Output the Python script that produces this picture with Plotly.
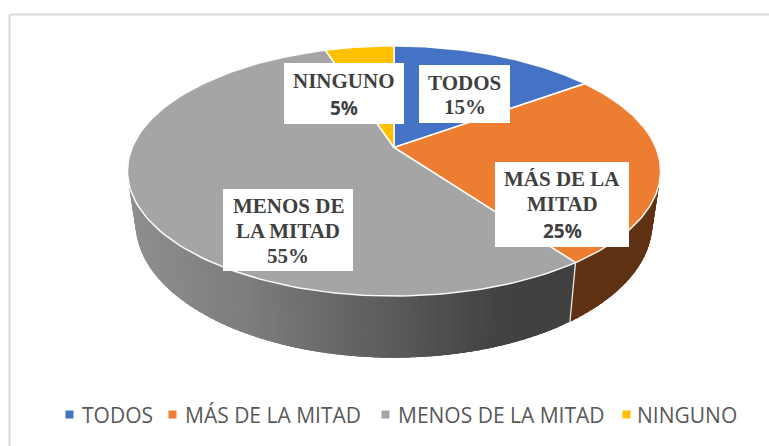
import numpy as np
import plotly.graph_objects as go

categories = ["TODOS", "MÁS DE LA MITAD", "MENOS DE LA MITAD", "NINGUNO"]
values = [15, 25, 55, 5]
colors = ["#4472C4", "#ED7D31", "#A5A5A5", "#FFC000"]
side_brown = "#5F3213"

W, H = 769, 446
CX = 394.0
TOP = dict(y0=147.5, R=261.8, H=120.6, k=0.188)
BOT = dict(y0=198.0, R=253.8, H=129.7, k=0.188)


def project(theta_deg, r, d):
    t = np.radians(theta_deg)
    u, v = r * np.sin(t), r * np.cos(t)
    w = 1 + d["k"] * v
    return CX + d["R"] * u / w, d["y0"] - d["H"] * v / w


def grey_for(x):
    g = np.interp(x, [130, 250, 400, 500, 570], [0x8E, 0x7C, 0x58, 0x42, 0x40])
    g = int(round(float(g)))
    return f"rgb({g},{g},{g})"


fractions = np.cumsum([0] + values) / sum(values) * 360.0
fig = go.Figure()

# walls of the disc: narrow overlapping facets so the shading can vary without seams
for i, (a, b) in enumerate(zip(fractions[:-1], fractions[1:])):
    lo, hi = max(a, 80.0), min(b, 290.0)
    if hi <= lo:
        continue
    starts = np.arange(lo, hi, 1.5)
    for s0 in starts:
        s1 = min(s0 + 4.0, hi)
        th = np.linspace(s0, s1, 5)
        xa, ya = project(th, 1, TOP)
        xb, yb = project(th[::-1], 1, BOT)
        col = side_brown if categories[i] == "MÁS DE LA MITAD" else grey_for(xa[1])
        fig.add_trace(go.Scatter(
            x=np.r_[xa, xb, xa[0]], y=np.r_[ya, yb, ya[0]], mode="lines",
            fill="toself", fillcolor=col, line=dict(width=0),
            hoverinfo="skip", showlegend=False))

# white seam between the two visible wall segments
seam = fractions[2]
sx0, sy0 = project(seam, 1, TOP)
sx1, sy1 = project(seam, 1, BOT)
fig.add_trace(go.Scatter(x=[sx0, sx1], y=[sy0, sy1], mode="lines",
                         line=dict(color="#E8E8E8", width=1.3),
                         hoverinfo="skip", showlegend=False))

# top face
for i, (a, b) in enumerate(zip(fractions[:-1], fractions[1:])):
    th = np.linspace(a, b, 120)
    x, y = project(th, 1, TOP)
    ax, ay = project(0.0, 0, TOP)
    fig.add_trace(go.Scatter(
        x=np.r_[ax, x, ax], y=np.r_[ay, y, ay], mode="lines", fill="toself",
        fillcolor=colors[i], line=dict(color="rgba(255,255,255,0.95)", width=1.5),
        hoverinfo="skip", showlegend=False))

# legend row
legend_marker_x = [69.5, 172.5, 385.5, 626.5]
legend_text_x = [81, 184, 397, 636]
legend_y = 414.5
for name, col, mx in zip(categories, colors, legend_marker_x):
    fig.add_trace(go.Scatter(x=[mx], y=[legend_y], mode="markers", name=name, showlegend=False,
                             marker=dict(symbol="square", size=8, color=col), hoverinfo="name"))

label_boxes = [
    (284, 63, 404, 124, [("NINGUNO", 81, "Liberation Serif"), ("5%", 108, "Open Sans")], 344),
    (419, 65, 510, 123, [("TODOS", 83, "Liberation Serif"), ("15%", 107, "Liberation Serif")], 464.5),
    (495, 162, 629, 247, [("MÁS DE LA", 179, "Liberation Serif"), ("MITAD", 204, "Liberation Serif"), ("25%", 231, "Open Sans")], 562),
    (223, 189, 353, 271, [("MENOS DE", 206, "Liberation Serif"), ("LA MITAD", 231, "Liberation Serif"), ("55%", 256, "Liberation Serif")], 288),
]
shapes = [
    dict(type="line", xref="paper", yref="paper", x0=9.5 / W, x1=1, y0=1 - 14.5 / H, y1=1 - 14.5 / H,
         line=dict(color="#DADADA", width=2)),
    dict(type="line", xref="paper", yref="paper", x0=9.5 / W, x1=9.5 / W, y0=0, y1=1 - 14.5 / H,
         line=dict(color="#DADADA", width=2)),
]
annotations = []
for x0, y0, x1, y1, lines, xc in label_boxes:
    shapes.append(dict(type="rect", x0=x0, x1=x1, y0=y0, y1=y1, xref="x", yref="y",
                       fillcolor="white", line=dict(width=0), layer="above"))
    for text, yc, fam in lines:
        annotations.append(dict(x=xc, y=yc, xref="x", yref="y", text=f"<b>{text}</b>", showarrow=False,
                                xanchor="center", yanchor="middle",
                                font=dict(family=fam, size=21 if fam != "Open Sans" else 19, color="#404040")))
for name, tx in zip(categories, legend_text_x):
    annotations.append(dict(x=tx, y=legend_y, xref="x", yref="y", text=name, showarrow=False,
                            xanchor="left", yanchor="middle", borderpad=0,
                            font=dict(family="Open Sans", size=21, color="#595959")))

fig.update_layout(
    width=W, height=H, margin=dict(l=0, r=0, t=0, b=0),
    paper_bgcolor="white", plot_bgcolor="white", showlegend=False,
    xaxis=dict(range=[0, W], visible=False, fixedrange=True),
    yaxis=dict(range=[H, 0], visible=False, fixedrange=True),
    shapes=shapes, annotations=annotations,
)
fig.write_html("out.html", config={"displayModeBar": False},
               post_script="document.body.style.margin='0';document.documentElement.style.overflow='hidden';")
